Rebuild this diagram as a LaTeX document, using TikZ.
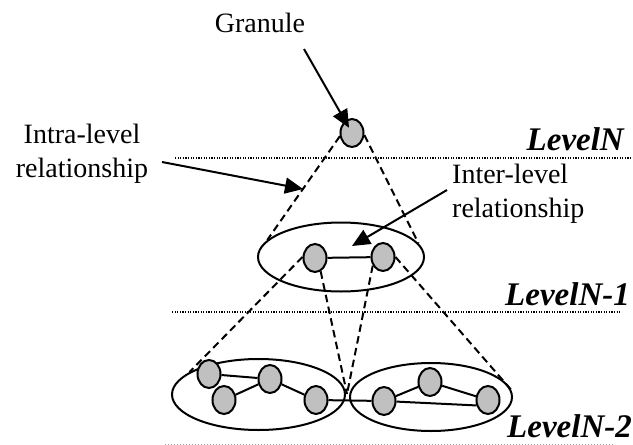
\documentclass[tikz,border=0pt]{standalone}
\usepackage{fontspec}
\setmainfont{Liberation Serif}
\usetikzlibrary{shapes.geometric,arrows.meta}
\definecolor{nodegray}{RGB}{192,192,192}
\definecolor{faintdot}{RGB}{160,160,160}
\pgfdeclarelayer{bg}
\pgfsetlayers{bg,main}
\begin{document}
\begin{tikzpicture}[x=1pt,y=-1pt,
  granule/.style={ellipse,draw,fill=nodegray,line width=2pt,minimum width=23pt,minimum height=28pt,inner sep=0pt},
  group/.style={ellipse,draw,line width=2pt,inner sep=0pt},
  link/.style={line width=2pt},
  dashlink/.style={line width=2pt,dash pattern=on 7.5pt off 4.5pt},
  levelline/.style={line width=1.4pt,dash pattern=on 1.2pt off 1.4pt},
  faintline/.style={line width=0.9pt,color=faintdot,dash pattern=on 1pt off 2pt},
  pointer/.style={line width=2pt,-{Triangle[length=18pt,width=16pt]}},
  lbl/.style={font=\fontsize{28}{34}\selectfont,inner sep=0pt},
  lvl/.style={font=\fontsize{33}{38}\selectfont\bfseries\itshape,inner sep=0pt,anchor=base east}]
\useasboundingbox (0,0) rectangle (633,445);

% level separators
\coordinate (nL) at (175,158);   \coordinate (nR) at (633,158);
\coordinate (n1L) at (172,312);  \coordinate (n1R) at (620,312);
\coordinate (n2L) at (165,444);  \coordinate (n2R) at (614,444);
\draw[levelline] (nL) -- (nR);
\draw[levelline] (n1L) -- (n1R);
\draw[faintline] (n2L) -- (n2R);

% groups
\node[group,minimum width=166pt,minimum height=69pt] (mid) at (341,257) {};
\node[group,minimum width=173pt,minimum height=71pt] (bl) at (258.5,394.5) {};
\node[group,minimum width=162pt,minimum height=68pt] (br) at (431,397) {};

% granules
\node[granule] (top) at (352,133) {};
\node[granule] (m1) at (315,258) {};
\node[granule] (m2) at (383,257) {};
\node[granule] (a1) at (209,374) {};
\node[granule] (a2) at (224,400) {};
\node[granule] (a3) at (270,379) {};
\node[granule] (a4) at (316,400) {};
\node[granule] (b1) at (384,401) {};
\node[granule] (b2) at (430,382) {};
\node[granule] (b3) at (488,400) {};

\coordinate (meet) at (347,394);

\begin{pgfonlayer}{bg}
  % intra-level links
  \draw[link] (m1) -- (m2);
  \draw[link] (a1) -- (a3);
  \draw[link] (a2) -- (a3);
  \draw[link] (a3) -- (a4);
  \draw[link] (a4) -- (b1);
  \draw[link] (b1) -- (b2);
  \draw[link] (b2) -- (b3);
  \draw[link] (b1) -- (b3.205);
  % inter-level (dashed) relations
  \draw[dashlink] (top.195) -- (mid.167);
  \draw[dashlink] (top.350) -- (mid.10);
  \draw[dashlink] (m1.175) -- (bl.162);
  \draw[dashlink] (m1.-67) -- (meet);
  \draw[dashlink] (m2.220) -- (meet);
  \draw[dashlink] (m2.0) -- (br.5);
\end{pgfonlayer}

% labels
\node[lbl,anchor=base] (gran) at (260,32) {Granule};
\node[lbl,align=center,anchor=base] (intra) at (82,177) {Intra-level\\relationship};
\node[lbl,align=left,anchor=base west] (inter) at (452,217) {Inter-level\\relationship};

\node[lvl] (lvN) at (624,150) {LevelN};
\node[lvl] (lvN1) at (630,305) {LevelN-1};
\node[lvl] (lvN2) at (632,437) {LevelN-2};

% pointers
\coordinate (gstart) at (304,49);
\draw[pointer,shorten >=6pt] (gstart) -- (top.center);
\coordinate (intrastart) at (162,162);
\coordinate (intratip) at (303,189);
\draw[pointer] (intrastart) -- (intratip);
\coordinate (interstart) at (447,190);
\coordinate (intertip) at (352,246);
\draw[pointer] (interstart) -- (intertip);
\end{tikzpicture}
\end{document}
